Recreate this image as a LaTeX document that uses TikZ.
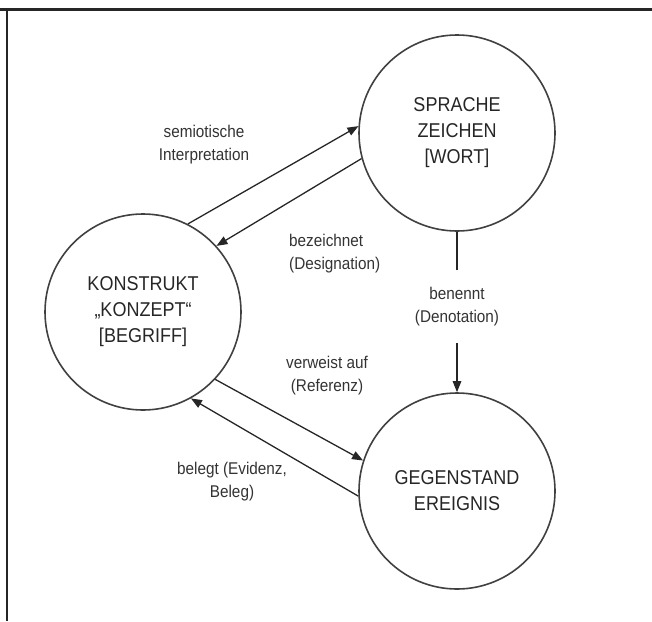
\documentclass[tikz,border=0pt]{standalone}
\usepackage{fontspec}
\setmainfont{Liberation Sans}[FakeStretch=0.9]
\usetikzlibrary{arrows.meta}
\begin{document}
\begin{tikzpicture}[x=1pt,y=-1pt,
  circ/.style={circle, draw=black!75, line width=1.6pt, minimum size=196pt,
    inner sep=0pt, align=center, text=black!85,
    font=\fontsize{20}{26}\selectfont},
  lbl/.style={align=center, text=black!80, inner sep=1pt,
    font=\fontsize{17}{23}\selectfont},
  link/.style={draw=black!85, line width=1.3pt},
  arr/.style={link, -{Triangle[length=11pt,width=8.5pt]}}]
\useasboundingbox (0,0) rectangle (652,621);
% frame edges
\draw[line width=2.5pt, black!85] (0,9.5) -- (652,9.5);
\draw[line width=2.5pt, black!85] (7,9.5) -- (7,621);

% the three concepts
\node[circ] (S) at (457,133) {SPRACHE\\ZEICHEN\\{}[WORT]};
\node[circ] (K) at (143,312) {KONSTRUKT\\„KONZEPT“\\{}[BEGRIFF]};
\node[circ] (G) at (457,491) {GEGENSTAND\\EREIGNIS};

% relation labels
\node[lbl] (semi) at (204,145) {semiotische\\Interpretation};
\node[lbl, align=left, anchor=west] (bez) at (288,254) {bezeichnet\\(Designation)};
\node[lbl, minimum height=73pt] (den) at (457,306.5) {benennt\\(Denotation)};
\node[lbl] (verw) at (327,376) {verweist auf\\(Referenz)};
\node[lbl] (bel) at (232,482) {belegt (Evidenz,\\Beleg)};

% relations
\draw[arr] (K.63) -- (S.176);
\draw[arr] (S.195) -- (K.42);
\draw[link] (S) -- (den);
\draw[arr] (den) -- (G);
\draw[arr] (K.-43) -- (G.162);
\draw[arr] (G.183) -- (K.-61);
\end{tikzpicture}
\end{document}
